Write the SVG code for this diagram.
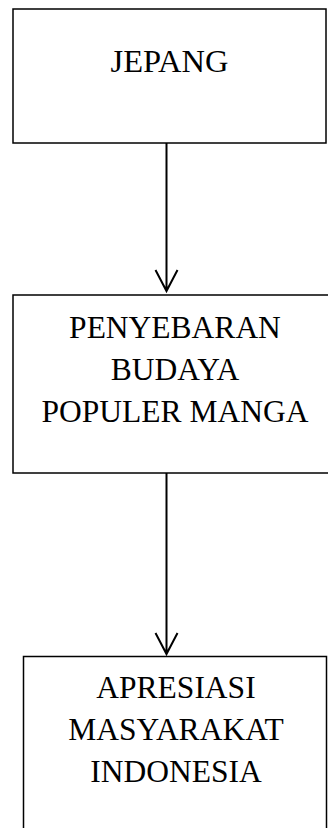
<svg xmlns="http://www.w3.org/2000/svg" width="328" height="828" viewBox="0 0 328 828">
<style>
.box{fill:#fff;stroke:#000;stroke-width:1.5}
.t{font-family:"Liberation Serif","Times New Roman",serif;font-size:31.5px;fill:#000;text-anchor:middle}
.c{stroke:#000;stroke-width:2;fill:none}
</style>
<rect width="328" height="828" fill="#fff"/>
<g id="jepang">
<rect class="box" x="13" y="9" width="313" height="134"/>
<text class="t" x="169.5" y="72" style="font-size:32.5px">JEPANG</text>
</g>
<g id="penyebaran">
<rect class="box" x="13" y="295" width="330" height="178"/>
<text class="t" x="175" y="338">PENYEBARAN</text>
<text class="t" x="175" y="380">BUDAYA</text>
<text class="t" x="175" y="422">POPULER MANGA</text>
</g>
<g id="apresiasi">
<rect class="box" x="23.5" y="656.5" width="303" height="200"/>
<text class="t" x="176" y="698">APRESIASI</text>
<text class="t" x="176" y="740">MASYARAKAT</text>
<text class="t" x="176" y="782">INDONESIA</text>
</g>
<g id="connectors">
<path class="c" d="M166.5 143V291M155.5 270L166.5 291L177.5 270"/>
<path class="c" d="M166.5 473V654M155.5 633L166.5 654L177.5 633"/>
</g>
</svg>
